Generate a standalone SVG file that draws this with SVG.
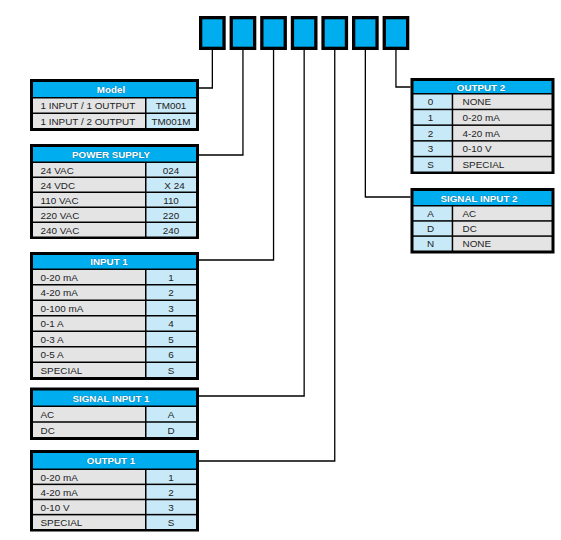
<svg xmlns="http://www.w3.org/2000/svg" width="561" height="540" viewBox="0 0 561 540">
<style>
.ob{fill:#000}
.hd{fill:#00AEEF}
.g{fill:#E4E4E5}
.b{fill:#C8E9F8}
.t{font-family:"Liberation Sans",Arial,sans-serif;font-size:9.9px;fill:#222}
.c{text-anchor:middle}
.h{font-family:"Liberation Sans",Arial,sans-serif;font-size:9.8px;font-weight:bold;fill:#fff;text-anchor:middle;stroke:#1a6e92;stroke-width:0.6px;paint-order:stroke}
.k{fill:#00AEEF;stroke:#000;stroke-width:3.3}
.ln{fill:none;stroke:#000;stroke-width:1.3}
</style>
<rect width="561" height="540" fill="#fff"/>
<g id="code-boxes">
<rect class="k" x="200.65" y="17.65" width="23.4" height="30.7"/>
<rect class="k" x="231.25" y="17.65" width="23.4" height="30.7"/>
<rect class="k" x="261.85" y="17.65" width="23.4" height="30.7"/>
<rect class="k" x="292.45" y="17.65" width="23.4" height="30.7"/>
<rect class="k" x="323.05" y="17.65" width="23.4" height="30.7"/>
<rect class="k" x="353.65" y="17.65" width="23.4" height="30.7"/>
<rect class="k" x="384.25" y="17.65" width="23.4" height="30.7"/>
</g>
<g id="connectors">
<path class="ln" d="M212.35 50V88H199"/>
<path class="ln" d="M242.95 50V155H199"/>
<path class="ln" d="M273.55 50V260H199"/>
<path class="ln" d="M304.15 50V396H199"/>
<path class="ln" d="M334.75 50V461H199"/>
<path class="ln" d="M365.35 50V197H410.5"/>
<path class="ln" d="M395.95 50V87H410.5"/>
</g>
<g id="model">
<rect class="ob" x="30" y="79" width="169" height="52"/>
<rect class="hd" x="33" y="82" width="163" height="15"/>
<rect class="g" x="33" y="98.5" width="112" height="14"/><rect class="b" x="146.5" y="98.5" width="49.5" height="14"/>
<rect class="g" x="33" y="114" width="112" height="14"/><rect class="b" x="146.5" y="114" width="49.5" height="14"/>
<text class="h" x="111" y="93">Model</text>
<text class="t" x="40.5" y="109.2">1 INPUT / 1 OUTPUT</text><text class="t c" x="171" y="109.2">TM001</text>
<text class="t" x="40.5" y="124.7">1 INPUT / 2 OUTPUT</text><text class="t c" x="171" y="124.7">TM001M</text>
</g>
<g id="power-supply">
<rect class="ob" x="30" y="144" width="169" height="95"/>
<rect class="hd" x="33" y="147" width="163" height="14.5"/>
<rect class="g" x="33" y="163" width="112" height="13.5"/><rect class="b" x="146.5" y="163" width="49.5" height="13.5"/>
<rect class="g" x="33" y="178" width="112" height="13.5"/><rect class="b" x="146.5" y="178" width="49.5" height="13.5"/>
<rect class="g" x="33" y="193" width="112" height="13.5"/><rect class="b" x="146.5" y="193" width="49.5" height="13.5"/>
<rect class="g" x="33" y="208" width="112" height="13.5"/><rect class="b" x="146.5" y="208" width="49.5" height="13.5"/>
<rect class="g" x="33" y="223" width="112" height="13.5"/><rect class="b" x="146.5" y="223" width="49.5" height="13.5"/>
<text class="h" x="111" y="157.8">POWER SUPPLY</text>
<text class="t" x="40.5" y="173.5">24 VAC</text><text class="t c" x="171" y="173.5">024</text>
<text class="t" x="40.5" y="188.5">24 VDC</text><text class="t c" x="174.5" y="188.5">X 24</text>
<text class="t" x="40.5" y="203.5">110 VAC</text><text class="t c" x="171" y="203.5">110</text>
<text class="t" x="40.5" y="218.5">220 VAC</text><text class="t c" x="171" y="218.5">220</text>
<text class="t" x="40.5" y="233.5">240 VAC</text><text class="t c" x="171" y="233.5">240</text>
</g>
<g id="input-1">
<rect class="ob" x="30" y="252" width="169" height="128"/>
<rect class="hd" x="33" y="255" width="163" height="13.5"/>
<rect class="g" x="33" y="270" width="112" height="14"/><rect class="b" x="146.5" y="270" width="49.5" height="14"/>
<rect class="g" x="33" y="285.5" width="112" height="14"/><rect class="b" x="146.5" y="285.5" width="49.5" height="14"/>
<rect class="g" x="33" y="301" width="112" height="14"/><rect class="b" x="146.5" y="301" width="49.5" height="14"/>
<rect class="g" x="33" y="316.5" width="112" height="14"/><rect class="b" x="146.5" y="316.5" width="49.5" height="14"/>
<rect class="g" x="33" y="332" width="112" height="14"/><rect class="b" x="146.5" y="332" width="49.5" height="14"/>
<rect class="g" x="33" y="347.5" width="112" height="14"/><rect class="b" x="146.5" y="347.5" width="49.5" height="14"/>
<rect class="g" x="33" y="363" width="112" height="14"/><rect class="b" x="146.5" y="363" width="49.5" height="14"/>
<text class="h" x="109" y="265.4">INPUT 1</text>
<text class="t" x="40.5" y="280.7">0-20 mA</text><text class="t c" x="171" y="280.7">1</text>
<text class="t" x="40.5" y="296.2">4-20 mA</text><text class="t c" x="171" y="296.2">2</text>
<text class="t" x="40.5" y="311.7">0-100 mA</text><text class="t c" x="171" y="311.7">3</text>
<text class="t" x="40.5" y="327.2">0-1 A</text><text class="t c" x="171" y="327.2">4</text>
<text class="t" x="40.5" y="342.7">0-3 A</text><text class="t c" x="171" y="342.7">5</text>
<text class="t" x="40.5" y="358.2">0-5 A</text><text class="t c" x="171" y="358.2">6</text>
<text class="t" x="40.5" y="373.7">SPECIAL</text><text class="t c" x="171" y="373.7">S</text>
</g>
<g id="signal-input-1">
<rect class="ob" x="30" y="387.5" width="169" height="52.5"/>
<rect class="hd" x="33" y="390.5" width="163" height="15"/>
<rect class="g" x="33" y="407" width="112" height="14.25"/><rect class="b" x="146.5" y="407" width="49.5" height="14.25"/>
<rect class="g" x="33" y="422.75" width="112" height="14.25"/><rect class="b" x="146.5" y="422.75" width="49.5" height="14.25"/>
<text class="h" x="111" y="401.6">SIGNAL INPUT 1</text>
<text class="t" x="40.5" y="417.8">AC</text><text class="t c" x="171" y="417.8">A</text>
<text class="t" x="40.5" y="433.6">DC</text><text class="t c" x="171" y="433.6">D</text>
</g>
<g id="output-1">
<rect class="ob" x="30" y="450" width="169" height="81.5"/>
<rect class="hd" x="33" y="453" width="163" height="15.5"/>
<rect class="g" x="33" y="470" width="112" height="13.6"/><rect class="b" x="146.5" y="470" width="49.5" height="13.6"/>
<rect class="g" x="33" y="485.1" width="112" height="13.6"/><rect class="b" x="146.5" y="485.1" width="49.5" height="13.6"/>
<rect class="g" x="33" y="500.25" width="112" height="13.6"/><rect class="b" x="146.5" y="500.25" width="49.5" height="13.6"/>
<rect class="g" x="33" y="515.4" width="112" height="13.6"/><rect class="b" x="146.5" y="515.4" width="49.5" height="13.6"/>
<text class="h" x="111" y="464.4">OUTPUT 1</text>
<text class="t" x="40.5" y="480.5">0-20 mA</text><text class="t c" x="171" y="480.5">1</text>
<text class="t" x="40.5" y="495.6">4-20 mA</text><text class="t c" x="171" y="495.6">2</text>
<text class="t" x="40.5" y="510.7">0-10 V</text><text class="t c" x="171" y="510.7">3</text>
<text class="t" x="40.5" y="525.9">SPECIAL</text><text class="t c" x="171" y="525.9">S</text>
</g>
<g id="output-2">
<rect class="ob" x="410.5" y="78" width="144" height="96"/>
<rect class="hd" x="413.5" y="81" width="138" height="12"/>
<rect class="b" x="413.5" y="94.5" width="38.2" height="14.2"/><rect class="g" x="453.2" y="94.5" width="98.3" height="14.2"/>
<rect class="b" x="413.5" y="110.2" width="38.2" height="14.2"/><rect class="g" x="453.2" y="110.2" width="98.3" height="14.2"/>
<rect class="b" x="413.5" y="125.9" width="38.2" height="14.2"/><rect class="g" x="453.2" y="125.9" width="98.3" height="14.2"/>
<rect class="b" x="413.5" y="141.6" width="38.2" height="14.2"/><rect class="g" x="453.2" y="141.6" width="98.3" height="14.2"/>
<rect class="b" x="413.5" y="157.3" width="38.2" height="14.2"/><rect class="g" x="453.2" y="157.3" width="98.3" height="14.2"/>
<text class="h" x="481" y="90.6">OUTPUT 2</text>
<text class="t c" x="430.5" y="105.3">0</text><text class="t" x="462.5" y="105.3">NONE</text>
<text class="t c" x="430.5" y="121">1</text><text class="t" x="462.5" y="121">0-20 mA</text>
<text class="t c" x="430.5" y="136.7">2</text><text class="t" x="462.5" y="136.7">4-20 mA</text>
<text class="t c" x="430.5" y="152.4">3</text><text class="t" x="462.5" y="152.4">0-10 V</text>
<text class="t c" x="430.5" y="168.1">S</text><text class="t" x="462.5" y="168.1">SPECIAL</text>
</g>
<g id="signal-input-2">
<rect class="ob" x="410.5" y="188" width="144" height="65.5"/>
<rect class="hd" x="413.5" y="191" width="138" height="14"/>
<rect class="b" x="413.5" y="206.5" width="38.2" height="13.67"/><rect class="g" x="453.2" y="206.5" width="98.3" height="13.67"/>
<rect class="b" x="413.5" y="221.67" width="38.2" height="13.67"/><rect class="g" x="453.2" y="221.67" width="98.3" height="13.67"/>
<rect class="b" x="413.5" y="236.83" width="38.2" height="13.67"/><rect class="g" x="453.2" y="236.83" width="98.3" height="13.67"/>
<text class="h" x="479" y="201.6">SIGNAL INPUT 2</text>
<text class="t c" x="430.5" y="217">A</text><text class="t" x="462.5" y="217">AC</text>
<text class="t c" x="430.5" y="232.2">D</text><text class="t" x="462.5" y="232.2">DC</text>
<text class="t c" x="430.5" y="247.4">N</text><text class="t" x="462.5" y="247.4">NONE</text>
</g>
</svg>
